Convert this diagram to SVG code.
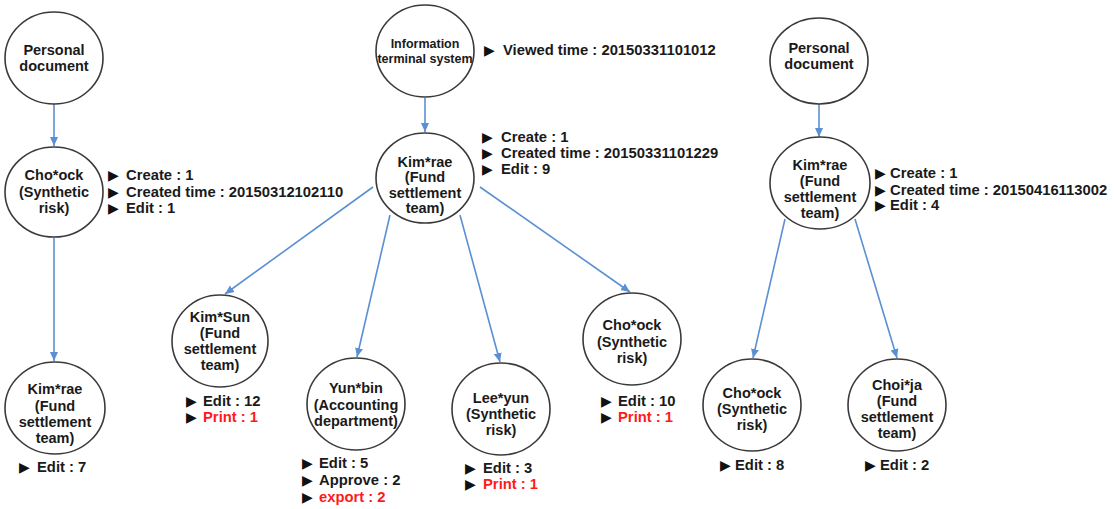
<svg xmlns="http://www.w3.org/2000/svg" width="1116" height="509" viewBox="0 0 1116 509">
<defs>
<style>
.n{fill:#fff;stroke:#3a3a3a;stroke-width:1.6}
.t{font-family:"Liberation Sans",Arial,sans-serif;font-weight:bold;font-size:14.5px;fill:#1a1a1a;text-anchor:middle}
.ts{font-size:12.5px}
.i{font-family:"Liberation Sans",Arial,sans-serif;font-weight:bold;font-size:14.8px;fill:#1a1a1a}
.r{fill:#ff1a1a}
.b{font-family:"DejaVu Sans",sans-serif;font-size:14px;fill:#111}
.c{stroke:#5b8fd4;stroke-width:1.6;fill:none;marker-end:url(#ah)}
</style>
<marker id="ah" markerUnits="userSpaceOnUse" markerWidth="10" markerHeight="10" viewBox="0 0 10 10" refX="9" refY="5" orient="auto">
<path d="M0,1 L9,5 L0,9 Z" fill="#5b8fd4"/>
</marker>
</defs>
<rect width="1116" height="509" fill="#fff"/>
<g id="connectors">
<line class="c" x1="54" y1="104" x2="54" y2="146"/>
<line class="c" x1="54" y1="238" x2="54" y2="361"/>
<line class="c" x1="425" y1="98" x2="425" y2="132"/>
<line class="c" x1="373" y1="187" x2="225" y2="294"/>
<line class="c" x1="390" y1="215" x2="357" y2="357"/>
<line class="c" x1="460" y1="215" x2="500" y2="362"/>
<line class="c" x1="480" y1="187" x2="630" y2="292"/>
<line class="c" x1="819" y1="104" x2="819" y2="137"/>
<line class="c" x1="785" y1="219" x2="753" y2="358"/>
<line class="c" x1="855" y1="219" x2="897" y2="358"/>
</g>
<g id="pd-left">
<ellipse class="n" cx="54" cy="58" rx="49" ry="46"/>
<text class="t" x="54" y="55">Personal</text>
<text class="t" x="54" y="71">document</text>
</g>
<g id="chock-left">
<ellipse class="n" cx="54" cy="192" rx="49" ry="45"/>
<text class="t" x="54" y="180">Cho*ock</text>
<text class="t" x="54" y="197">(Synthetic</text>
<text class="t" x="54" y="213">risk)</text>
<text class="b" x="108" y="180">▶</text><text class="i" x="126" y="180">Create : 1</text>
<text class="b" x="108" y="197">▶</text><text class="i" x="126" y="197">Created time : 20150312102110</text>
<text class="b" x="108" y="213">▶</text><text class="i" x="126" y="213">Edit : 1</text>
</g>
<g id="kimrae-left">
<ellipse class="n" cx="55" cy="408" rx="50" ry="46"/>
<text class="t" x="55" y="394">Kim*rae</text>
<text class="t" x="55" y="411">(Fund</text>
<text class="t" x="55" y="427">settlement</text>
<text class="t" x="55" y="443">team)</text>
<text class="b" x="19" y="472">▶</text><text class="i" x="37" y="472">Edit : 7</text>
</g>
<g id="info-system">
<ellipse class="n" cx="425" cy="51" rx="49" ry="46"/>
<text class="t ts" x="425" y="48">Information</text>
<text class="t ts" x="425" y="63">terminal system</text>
<text class="b" x="484" y="55">▶</text><text class="i" x="503" y="55">Viewed time : 20150331101012</text>
</g>
<g id="kimrae-mid">
<ellipse class="n" cx="425" cy="178" rx="49" ry="45"/>
<text class="t" x="425" y="167">Kim*rae</text>
<text class="t" x="425" y="182">(Fund</text>
<text class="t" x="425" y="198">settlement</text>
<text class="t" x="425" y="213">team)</text>
<text class="b" x="482" y="142">▶</text><text class="i" x="501" y="142">Create : 1</text>
<text class="b" x="482" y="158">▶</text><text class="i" x="501" y="158">Created time : 20150331101229</text>
<text class="b" x="482" y="174">▶</text><text class="i" x="501" y="174">Edit : 9</text>
</g>
<g id="kimsun">
<ellipse class="n" cx="220" cy="341" rx="48" ry="46"/>
<text class="t" x="220" y="322">Kim*Sun</text>
<text class="t" x="220" y="338">(Fund</text>
<text class="t" x="220" y="354">settlement</text>
<text class="t" x="220" y="370">team)</text>
<text class="b" x="186" y="406">▶</text><text class="i" x="203" y="406">Edit : 12</text>
<text class="b" x="186" y="422">▶</text><text class="i r" x="203" y="422">Print : 1</text>
</g>
<g id="yunbin">
<ellipse class="n" cx="356" cy="404" rx="49" ry="46"/>
<text class="t" x="356" y="393">Yun*bin</text>
<text class="t" x="356" y="410">(Accounting</text>
<text class="t" x="356" y="426">department)</text>
<text class="b" x="302" y="468">▶</text><text class="i" x="319" y="468">Edit : 5</text>
<text class="b" x="302" y="485">▶</text><text class="i" x="319" y="485">Approve : 2</text>
<text class="b" x="302" y="502">▶</text><text class="i r" x="319" y="502">export : 2</text>
</g>
<g id="leeyun">
<ellipse class="n" cx="501" cy="409" rx="49" ry="46"/>
<text class="t" x="501" y="403">Lee*yun</text>
<text class="t" x="501" y="419">(Synthetic</text>
<text class="t" x="501" y="435">risk)</text>
<text class="b" x="465" y="473">▶</text><text class="i" x="483" y="473">Edit : 3</text>
<text class="b" x="465" y="489">▶</text><text class="i r" x="483" y="489">Print : 1</text>
</g>
<g id="chock-mid">
<ellipse class="n" cx="632" cy="339" rx="49" ry="46"/>
<text class="t" x="632" y="330">Cho*ock</text>
<text class="t" x="632" y="347">(Synthetic</text>
<text class="t" x="632" y="363">risk)</text>
<text class="b" x="601" y="406">▶</text><text class="i" x="618" y="406">Edit : 10</text>
<text class="b" x="601" y="422">▶</text><text class="i r" x="618" y="422">Print : 1</text>
</g>
<g id="pd-right">
<ellipse class="n" cx="819" cy="61" rx="49" ry="43"/>
<text class="t" x="819" y="53">Personal</text>
<text class="t" x="819" y="69">document</text>
</g>
<g id="kimrae-right">
<ellipse class="n" cx="820" cy="183" rx="50" ry="46"/>
<text class="t" x="820" y="170">Kim*rae</text>
<text class="t" x="820" y="186">(Fund</text>
<text class="t" x="820" y="202">settlement</text>
<text class="t" x="820" y="218">team)</text>
<text class="b" x="875" y="178">▶</text><text class="i" x="890" y="178">Create : 1</text>
<text class="b" x="875" y="195">▶</text><text class="i" x="890" y="195">Created time : 20150416113002</text>
<text class="b" x="875" y="210">▶</text><text class="i" x="890" y="210">Edit : 4</text>
</g>
<g id="chock-right">
<ellipse class="n" cx="752" cy="405" rx="49" ry="46"/>
<text class="t" x="752" y="398">Cho*ock</text>
<text class="t" x="752" y="414">(Synthetic</text>
<text class="t" x="752" y="430">risk)</text>
<text class="b" x="720" y="470">▶</text><text class="i" x="735" y="470">Edit : 8</text>
</g>
<g id="choija">
<ellipse class="n" cx="897" cy="405" rx="49" ry="46"/>
<text class="t" x="897" y="390">Choi*ja</text>
<text class="t" x="897" y="406">(Fund</text>
<text class="t" x="897" y="422">settlement</text>
<text class="t" x="897" y="438">team)</text>
<text class="b" x="865" y="470">▶</text><text class="i" x="880" y="470">Edit : 2</text>
</g>
</svg>
